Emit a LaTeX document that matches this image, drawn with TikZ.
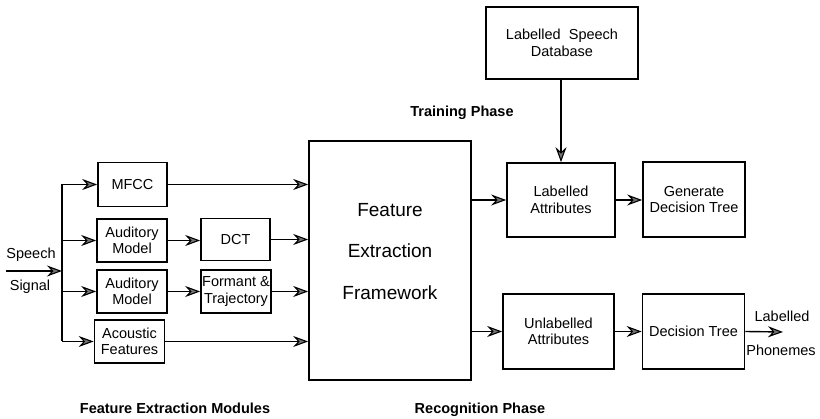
\documentclass[tikz,border=0pt]{standalone}
\usepackage{fontspec}
\setmainfont{Liberation Sans}
\usetikzlibrary{arrows.meta}
\begin{document}
\begin{tikzpicture}[x=1pt,y=-1pt,
  box/.style={draw,line width=1.7pt,inner sep=0pt,align=center,
    font=\fontsize{14.5}{16.5}\selectfont},
  arr/.style={line width=1.4pt,
    -{Stealth[length=15pt,width=11pt,inset=5pt,fill=black!55,line width=1.1pt]}},
  wire/.style={line width=1.4pt},
  lbl/.style={inner sep=0pt,font=\fontsize{14.5}{16.5}\selectfont},
  phasetext/.style={inner sep=0pt,font=\bfseries\fontsize{14.5}{16.5}\selectfont}]
\useasboundingbox (0,0) rectangle (820,419);

% feature extraction modules
\node[box,minimum width=69pt,minimum height=44pt] (mfcc) at (132.5,184.5) {MFCC};
\node[box,minimum width=70pt,minimum height=43pt] (aud1) at (132,240.5) {Auditory\\Model};
\node[box,minimum width=69pt,minimum height=42pt] (dct) at (235.5,239.5) {DCT};
\node[box,minimum width=70pt,minimum height=43pt] (aud2) at (132,291.5) {Auditory\\Model};
\node[box,minimum width=70pt,minimum height=43pt] (form) at (236,291.5) {Formant \&\\Trajectory};
\node[box,minimum width=70pt,minimum height=43pt] (acou) at (129.5,341.5) {Acoustic\\Features};

% central framework
\node[box,minimum width=162pt,minimum height=239pt] (fw) at (390,260.5) {};
\node[inner sep=0pt,align=center,font=\fontsize{19}{41.5}\selectfont] (fwtext) at (390,251.5)
  {Feature\\Extraction\\Framework};

% training and recognition branches
\node[box,minimum width=152pt,minimum height=72pt] (db) at (562,43) {Labelled~~Speech\\Database};
\node[box,minimum width=108pt,minimum height=74pt] (lab) at (561,200) {Labelled\\Attributes};
\node[box,minimum width=102pt,minimum height=75pt] (gen) at (694,199.5) {Generate\\Decision Tree};
\node[box,minimum width=111pt,minimum height=75pt] (unlab) at (558.5,331.5) {Unlabelled\\Attributes};
\node[box,minimum width=102pt,minimum height=75pt] (dt) at (693.5,331.5) {Decision Tree};

% input signal and distribution bus
\coordinate (sin) at (6,271);
\coordinate (bus) at (62,271);
\node[lbl] (speech) at (31,255) {Speech};
\node[lbl] (signal) at (30,287) {Signal};
\draw[arr] (sin) -- (bus);
\draw[wire] (mfcc.west -| bus) -- (acou.west -| bus);
\draw[arr] (mfcc.west -| bus) -- (mfcc.west);
\draw[arr] (aud1.west -| bus) -- (aud1.west);
\draw[arr] (aud2.west -| bus) -- (aud2.west);
\draw[arr] (acou.west -| bus) -- (acou.west);

% module outputs into the framework
\draw[arr] (mfcc.east) -- (mfcc.east -| fw.west);
\draw[arr] (aud1.east) -- (aud1.east -| dct.west);
\draw[arr] (dct.east) -- (dct.east -| fw.west);
\draw[arr] (aud2.east) -- (aud2.east -| form.west);
\draw[arr] (form.east) -- (form.east -| fw.west);
\draw[arr] (acou.east) -- (acou.east -| fw.west);

% framework outputs
\draw[arr] (lab.west -| fw.east) -- (lab.west);
\draw[arr] (unlab.west -| fw.east) -- (unlab.west);
\draw[arr] (db.south -| lab.north) -- (lab.north);
\draw[arr] (lab.east) -- (lab.east -| gen.west);
\draw[arr] (unlab.east) -- (unlab.east -| dt.west);
\coordinate (out) at (783,332);
\draw[arr] (dt.east) -- (out);
\node[lbl] (phl) at (782,316) {Labelled};
\node[lbl] (php) at (781,350) {Phonemes};

% phase captions
\node[phasetext] (train) at (462,113) {Training Phase};
\node[phasetext] (mods) at (175,408) {Feature Extraction Modules};
\node[phasetext] (recog) at (480,410) {Recognition Phase};
\end{tikzpicture}
\end{document}
